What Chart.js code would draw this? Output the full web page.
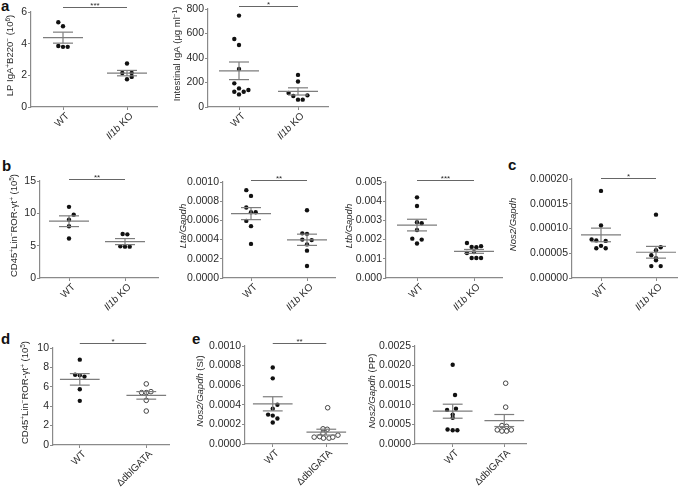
<!DOCTYPE html>
<html>
<head>
<meta charset="utf-8">
<script src="https://cdn.jsdelivr.net/npm/chart.js@4.4.1/dist/chart.umd.min.js"></script>
<style>
  body { margin: 0; background: #fff; }
  #fig { position: relative; width: 685px; height: 489px; overflow: hidden; background: #fff; }
  #fig canvas { position: absolute; }
  .lt { position: absolute; font: bold 15px "Liberation Sans", Arial, sans-serif; color: #111; line-height: 15px; }
</style>
</head>
<body>
<div id="fig">
  <div class="lt" style="left:1px;top:-2px">a</div>
  <div class="lt" style="left:2px;top:158px">b</div>
  <div class="lt" style="left:508px;top:157px">c</div>
  <div class="lt" style="left:1px;top:331px">d</div>
  <div class="lt" style="left:192px;top:331px">e</div>
</div>
<script>
// groups (x categories), *..* = italic
const il1bGroups = ['WT', '*Il1b* KO'];
const gataGroups = ['WT', 'ΔdblGATA'];

// a: LP IgA+ B220- cells (10^6)
const a1WT = [5.35, 5.1, 3.85, 3.8, 3.8];
const a1WTSlot = [-1, 0, -1, 0, 1];
const a1KO = [2.75, 2.15, 2.15, 1.75, 1.9];
const a1KOSlot = [0, -1, 1, 0, 1];
const a1Ticks = [0, 2, 4, 6];

// a: intestinal IgA (ug/ml)
const a2WT = [746, 555, 506, 310, 193, 152, 125, 103, 125, 139];
const a2WTSlot = [0, -1, 0, 0, -1, 0, -1, 0, 1, 2];
const a2KO = [262, 208, 115, 90, 60, 60, 95];
const a2KOSlot = [0, 0, -2, -1, 0, 1, 2];
const a2Ticks = [0, 200, 400, 600, 800];

// b: CD45+Lin-ROR-gt+ (10^5)
const b1WT = [11.0, 9.8, 9.0, 8.0, 6.1];
const b1WTSlot = [0, 1, 0, 0, 0];
const b1KO = [6.8, 6.75, 4.9, 4.85, 4.85];
const b1KOSlot = [-0.5, 0.5, -1, 0, 1];
const b1Ticks = [0, 5, 10, 15];

// b: Lta/Gapdh
const b2WT = [0.000915, 0.000855, 0.000735, 0.000685, 0.000685, 0.000595, 0.00054, 0.000355];
const b2WTSlot = [-1, 0, -1, 0, 1, -1, 0, 0];
const b2KO = [0.000705, 0.000465, 0.00046, 0.0004, 0.000395, 0.00035, 0.000285, 0.000125];
const b2KOSlot = [0, -1, 0, -1, 1, 0, 0, 0];
const b2Ticks = [0, 0.0002, 0.0004, 0.0006, 0.0008, 0.001];

// b: Ltb/Gapdh
const b3WT = [0.0042, 0.00375, 0.0029, 0.00285, 0.0025, 0.00205, 0.002, 0.0018];
const b3WTSlot = [0, 0, 0, 1, 0, -1, 1, 0];
const b3KO = [0.00182, 0.00162, 0.0016, 0.00166, 0.0013, 0.00135, 0.00104, 0.00104, 0.00104];
const b3KOSlot = [-1.5, -0.5, 0.5, 1.5, -1.5, 0, -0.5, 0.5, 1.5];
const b3Ticks = [0, 0.001, 0.002, 0.003, 0.004, 0.005];

// c: Nos2/Gapdh
const cWT = [0.000176, 0.000106, 0.000078, 0.000076, 0.000075, 0.000065, 0.00006, 0.00006];
const cWTSlot = [0, 0, -2, -1, 1, 0, -1, 1];
const cKO = [0.000128, 0.000062, 0.000056, 0.000046, 0.00004, 0.000036, 0.000024, 0.000024];
const cKOSlot = [0, 1, 0, -1, 0, 0, -1, 1];
const cTicks = [0, 0.00005, 0.0001, 0.00015, 0.0002];

// d: CD45+Lin-ROR-gt+ (10^5), dblGATA
const dWT = [8.8, 7.25, 7.2, 7.05, 5.75, 4.55];
const dWTSlot = [0, -1, 0, 1, 0, 0];
const dKO = [6.3, 5.4, 5.4, 5.5, 4.6, 3.5];
const dKOSlot = [0, -1, 0, 1, 0, 0];
const dTicks = [0, 2, 4, 6, 8, 10];

// e: Nos2/Gapdh (SI)
const e1WT = [0.00078, 0.00067, 0.0004, 0.00036, 0.0003, 0.00029, 0.00026, 0.00022];
const e1WTSlot = [0, 0, 1, 0, -1, 0, 1, 0];
const e1KO = [0.00037, 0.000155, 0.00015, 0.00011, 0.00007, 0.000075, 0.00006, 0.00006, 0.00007, 0.00009];
const e1KOSlot = [0.3, -0.7, 0.2, -0.7, -2.6, -1.4, -0.6, 0.6, 1.4, 2.5];
const e1Ticks = [0, 0.0002, 0.0004, 0.0006, 0.0008, 0.001];

// e: Nos2/Gapdh (PP)
const e2WT = [0.00202, 0.00125, 0.0009, 0.00087, 0.00075, 0.00067, 0.00037, 0.00035, 0.00035];
const e2WTSlot = [0, 0.5, 0.7, -1.2, 0, 0, -1.1, 0, 1];
const e2KO = [0.00155, 0.00094, 0.00047, 0.00045, 0.00036, 0.00033, 0.00033, 0.00036];
const e2KOSlot = [0.3, 0.3, -0.5, 0.5, -1.5, -0.5, 0.5, 1.5];
const e2Ticks = [0, 0.0005, 0.001, 0.0015, 0.002, 0.0025];

const FONT = '"Liberation Sans", Arial, Helvetica, sans-serif';
const AXIS = '#8a8a8a';
const LINE = '#7d7d7d';
const TEXT = '#2a2a2a';

const panels = [
  { ax: 31, x1: 157, yTop: 12, yBot: 107, titleX: 10, wtPx: 63, koPx: 127, sigOff: 5, sig: '***',
    title: 'LP IgA^{+}B220^{−} (10^{6})', groups: il1bGroups, wt: a1WT, wtSlot: a1WTSlot, ko: a1KO, koSlot: a1KOSlot, ticks: a1Ticks, dec: 0 },
  { ax: 208, x1: 328, yTop: 9, yBot: 107, titleX: 177, wtPx: 239, koPx: 298, sigOff: 3, sig: '*',
    title: 'Intestinal IgA (μg ml^{−1})', groups: il1bGroups, wt: a2WT, wtSlot: a2WTSlot, ko: a2KO, koSlot: a2KOSlot, ticks: a2Ticks, dec: 0 },
  { ax: 40, x1: 158, yTop: 181, yBot: 278, titleX: 14, wtPx: 69, koPx: 125, sigOff: 2, sig: '**',
    title: 'CD45^{+}Lin^{−}ROR-γt^{+} (10^{5})', groups: il1bGroups, wt: b1WT, wtSlot: b1WTSlot, ko: b1KO, koSlot: b1KOSlot, ticks: b1Ticks, dec: 0 },
  { ax: 223, x1: 335, yTop: 182, yBot: 278, titleX: 183, wtPx: 251, koPx: 307, sigOff: 2, sig: '**',
    title: '*Lta/Gapdh*', groups: il1bGroups, wt: b2WT, wtSlot: b2WTSlot, ko: b2KO, koSlot: b2KOSlot, ticks: b2Ticks, dec: 4 },
  { ax: 386, x1: 502, yTop: 182, yBot: 278, titleX: 349, wtPx: 417, koPx: 474, sigOff: 2, sig: '***',
    title: '*Ltb/Gapdh*', groups: il1bGroups, wt: b3WT, wtSlot: b3WTSlot, ko: b3KO, koSlot: b3KOSlot, ticks: b3Ticks, dec: 3 },
  { ax: 572, x1: 677, yTop: 179, yBot: 278, titleX: 513, wtPx: 601, koPx: 656, sigOff: 1, sig: '*',
    title: '*Nos2/Gapdh*', groups: il1bGroups, wt: cWT, wtSlot: cWTSlot, ko: cKO, koSlot: cKOSlot, ticks: cTicks, dec: 5 },
  { ax: 53, x1: 170, yTop: 348, yBot: 445, titleX: 25, wtPx: 80, koPx: 147, sigOff: 5, sig: '*', open: true,
    title: 'CD45^{+}Lin^{−}ROR-γt^{+} (10^{5})', groups: gataGroups, wt: dWT, wtSlot: dWTSlot, ko: dKO, koSlot: dKOSlot, ticks: dTicks, dec: 0 },
  { ax: 245, x1: 348, yTop: 346, yBot: 444, titleX: 200, wtPx: 273, koPx: 327, sigOff: 3, sig: '**', open: true,
    title: '*Nos2/Gapdh* (SI)', groups: gataGroups, wt: e1WT, wtSlot: e1WTSlot, ko: e1KO, koSlot: e1KOSlot, ticks: e1Ticks, dec: 4 },
  { ax: 415, x1: 527, yTop: 346, yBot: 444, titleX: 372, wtPx: 453, koPx: 505, sigOff: 0, sig: '', open: true,
    title: '*Nos2/Gapdh* (PP)', groups: gataGroups, wt: e2WT, wtSlot: e2WTSlot, ko: e2KO, koSlot: e2KOSlot, ticks: e2Ticks, dec: 4 },
];

function parseRich(s) {
  const segs = [];
  let italic = false, buf = '', i = 0;
  const push = (t, sup) => { if (t) segs.push({ t, italic, sup: !!sup }); };
  while (i < s.length) {
    const ch = s[i];
    if (ch === '*') { push(buf); buf = ''; italic = !italic; i++; }
    else if (ch === '^' && s[i + 1] === '{') {
      push(buf); buf = '';
      const j = s.indexOf('}', i);
      push(s.slice(i + 2, j), true);
      i = j + 1;
    } else { buf += ch; i++; }
  }
  push(buf);
  return segs;
}

function segFont(seg, size) {
  return (seg.italic ? 'italic ' : '') + (seg.sup ? size * 0.68 : size) + 'px ' + FONT;
}

function drawRich(ctx, segs, x, y, size, align) {
  let w = 0;
  segs.forEach(s => { ctx.font = segFont(s, size); w += ctx.measureText(s.t).width; });
  let cx = align === 'right' ? x - w : align === 'center' ? x - w / 2 : x;
  ctx.textAlign = 'left';
  ctx.textBaseline = 'alphabetic';
  segs.forEach(s => {
    ctx.font = segFont(s, size);
    ctx.fillText(s.t, cx, s.sup ? y - size * 0.4 : y);
    cx += ctx.measureText(s.t).width;
  });
}

function meanSem(a) {
  const n = a.length;
  const m = a.reduce((s, v) => s + v, 0) / n;
  const sd = Math.sqrt(a.reduce((s, v) => s + (v - m) * (v - m), 0) / (n - 1));
  return [m, sd / Math.sqrt(n)];
}

function errSets(g, vals, unit) {
  const [m, se] = meanSem(vals);
  const hw = 20 / unit, cw = 10 / unit;
  return [[g - hw, m, g + hw, m], [g - cw, m + se, g + cw, m + se], [g - cw, m - se, g + cw, m - se], [g, m - se, g, m + se]]
    .map(([x0, y0, xx, yy]) => ({
      data: [{ x: x0, y: y0 }, { x: xx, y: yy }],
      showLine: true, pointRadius: 0, borderColor: LINE, borderWidth: 1.2
    }));
}

const fig = document.getElementById('fig');

panels.forEach(p => {
  const left = p.titleX - 14;
  const top = p.yTop - 20;
  const width = p.x1 - left + 4;
  const height = p.yBot - top + 62;
  const yw = p.ax - left;
  const xh = height - 20 - (p.yBot - p.yTop);
  const unit = p.koPx - p.wtPx;
  const xmin = 1 - (p.wtPx - p.ax) / unit;
  const xmax = 1 + (p.x1 - p.wtPx) / unit;
  const sp = 4.7 / unit;

  const cv = document.createElement('canvas');
  cv.width = width; cv.height = height;
  cv.style.left = left + 'px'; cv.style.top = top + 'px';
  fig.appendChild(cv);

  const wtData = p.wt.map((v, i) => ({ x: 1 + p.wtSlot[i] * sp, y: v }));
  const koData = p.ko.map((v, i) => ({ x: 2 + p.koSlot[i] * sp, y: v }));

  const extras = {
    id: 'extras',
    afterDraw(chart) {
      const { ctx, chartArea, scales } = chart;
      ctx.save();
      ctx.fillStyle = TEXT;
      // y title
      ctx.save();
      ctx.translate(p.titleX - left, (p.yTop + p.yBot) / 2 - 4 - top);
      ctx.rotate(-Math.PI / 2);
      drawRich(ctx, parseRich(p.title), 0, 3.4, 9.5, 'center');
      ctx.restore();
      // x labels
      p.groups.forEach((g, i) => {
        const px = scales.x.getPixelForValue(i + 1);
        ctx.save();
        ctx.translate(px + 4, chartArea.bottom + 7);
        ctx.rotate(-Math.PI / 4);
        drawRich(ctx, parseRich(g), 0, 3.5, 10, 'right');
        ctx.restore();
      });
      // significance bar
      if (p.sig) {
        const y = chartArea.top - p.sigOff;
        const xa = scales.x.getPixelForValue(1), xb = scales.x.getPixelForValue(2);
        ctx.strokeStyle = '#666';
        ctx.lineWidth = 1;
        ctx.beginPath();
        ctx.moveTo(xa, y + 0.5); ctx.lineTo(xb, y + 0.5);
        ctx.stroke();
        ctx.font = '8px ' + FONT;
        ctx.textAlign = 'center';
        ctx.textBaseline = 'alphabetic';
        ctx.fillText(p.sig, (xa + xb) / 2, y + 1);
      }
      ctx.restore();
    }
  };

  new Chart(cv, {
    type: 'scatter',
    data: {
      datasets: [
        ...errSets(1, p.wt, unit),
        ...errSets(2, p.ko, unit),
        { data: wtData, pointRadius: 2.2, pointBackgroundColor: '#111', pointBorderWidth: 0 },
        p.open
          ? { data: koData, pointRadius: 2.3, pointBackgroundColor: '#fff', pointBorderColor: '#333', pointBorderWidth: 0.9 }
          : { data: koData, pointRadius: 2.2, pointBackgroundColor: '#111', pointBorderWidth: 0 }
      ]
    },
    options: {
      responsive: false,
      animation: false,
      layout: { padding: { top: 20, right: 4, left: 0, bottom: 0 } },
      plugins: { legend: { display: false }, tooltip: { enabled: false } },
      scales: {
        x: {
          type: 'linear', min: xmin, max: xmax,
          afterBuildTicks: s => { s.ticks = [{ value: 1 }, { value: 2 }]; },
          afterFit: s => { s.height = xh; },
          ticks: { display: false },
          grid: { drawOnChartArea: false, color: AXIS, tickLength: 3 },
          border: { color: AXIS, width: 1.2 }
        },
        y: {
          min: 0, max: p.ticks[p.ticks.length - 1],
          afterBuildTicks: s => { s.ticks = p.ticks.map(v => ({ value: v })); },
          afterFit: s => { s.width = yw; },
          ticks: { callback: v => v.toFixed(p.dec), color: TEXT, font: { size: 10.5, family: FONT }, padding: 1 },
          grid: { drawOnChartArea: false, color: AXIS, tickLength: 3 },
          border: { color: AXIS, width: 1.2 }
        }
      }
    },
    plugins: [extras]
  });
});
</script>
</body>
</html>
